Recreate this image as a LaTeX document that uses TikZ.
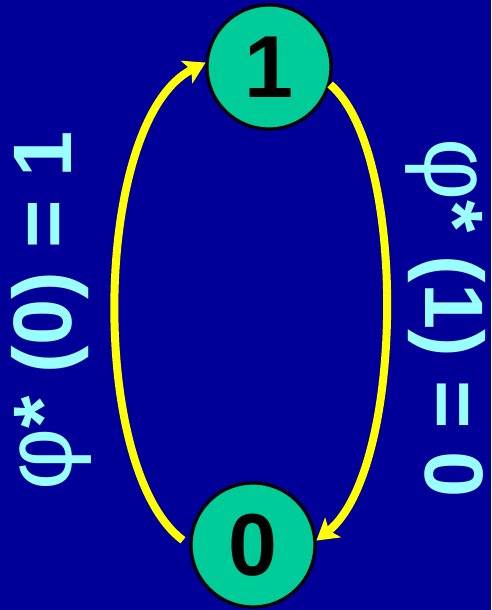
\documentclass[tikz,border=0pt]{standalone}
\usepackage{fontspec}
\setmainfont{Liberation Sans}
\usetikzlibrary{arrows.meta}
\definecolor{bgblue}{RGB}{0,0,153}
\definecolor{statefill}{RGB}{0,204,153}
\definecolor{labelcyan}{RGB}{153,255,255}
\definecolor{arrowyellow}{RGB}{255,255,0}
\newcommand{\phisym}{{\fontsize{96}{96}\selectfont\mdseries φ}}
\begin{document}
\begin{tikzpicture}[x=1pt,y=-1pt,
  statenode/.style={circle,draw=black,line width=3.2pt,fill=statefill,
    minimum size=124pt,inner sep=0pt,font=\fontsize{88}{88}\selectfont\bfseries,text=black},
  maplabel/.style={text=labelcyan,font=\fontsize{83}{83}\selectfont\bfseries,inner sep=0pt},
  transition/.style={draw=arrowyellow,line width=8pt,
    -{Stealth[length=21pt,width=25pt,inset=5pt]}}]
  % background
  \fill[bgblue] (0,0) rectangle (491,610);
  \useasboundingbox (0,0) rectangle (491,610);
  % states
  \node[statenode] (one) at (269,67) {1};
  \node[statenode] (zero) at (253,545) {0};
  % transitions
  \draw[transition,shorten <=8pt] (zero.180) .. controls (88,470) and (92,120) .. (one.176);
  \draw[transition] (one.-16) .. controls (408,150) and (405,470) .. (zero.4);
  % pullback labels
  \node[maplabel,rotate=90] (lab0) at (51,311) {\phisym* (0) = 1};
  \node[maplabel,rotate=-90] (lab1) at (446,318) {\phisym* (1) = 0};
\end{tikzpicture}
\end{document}
